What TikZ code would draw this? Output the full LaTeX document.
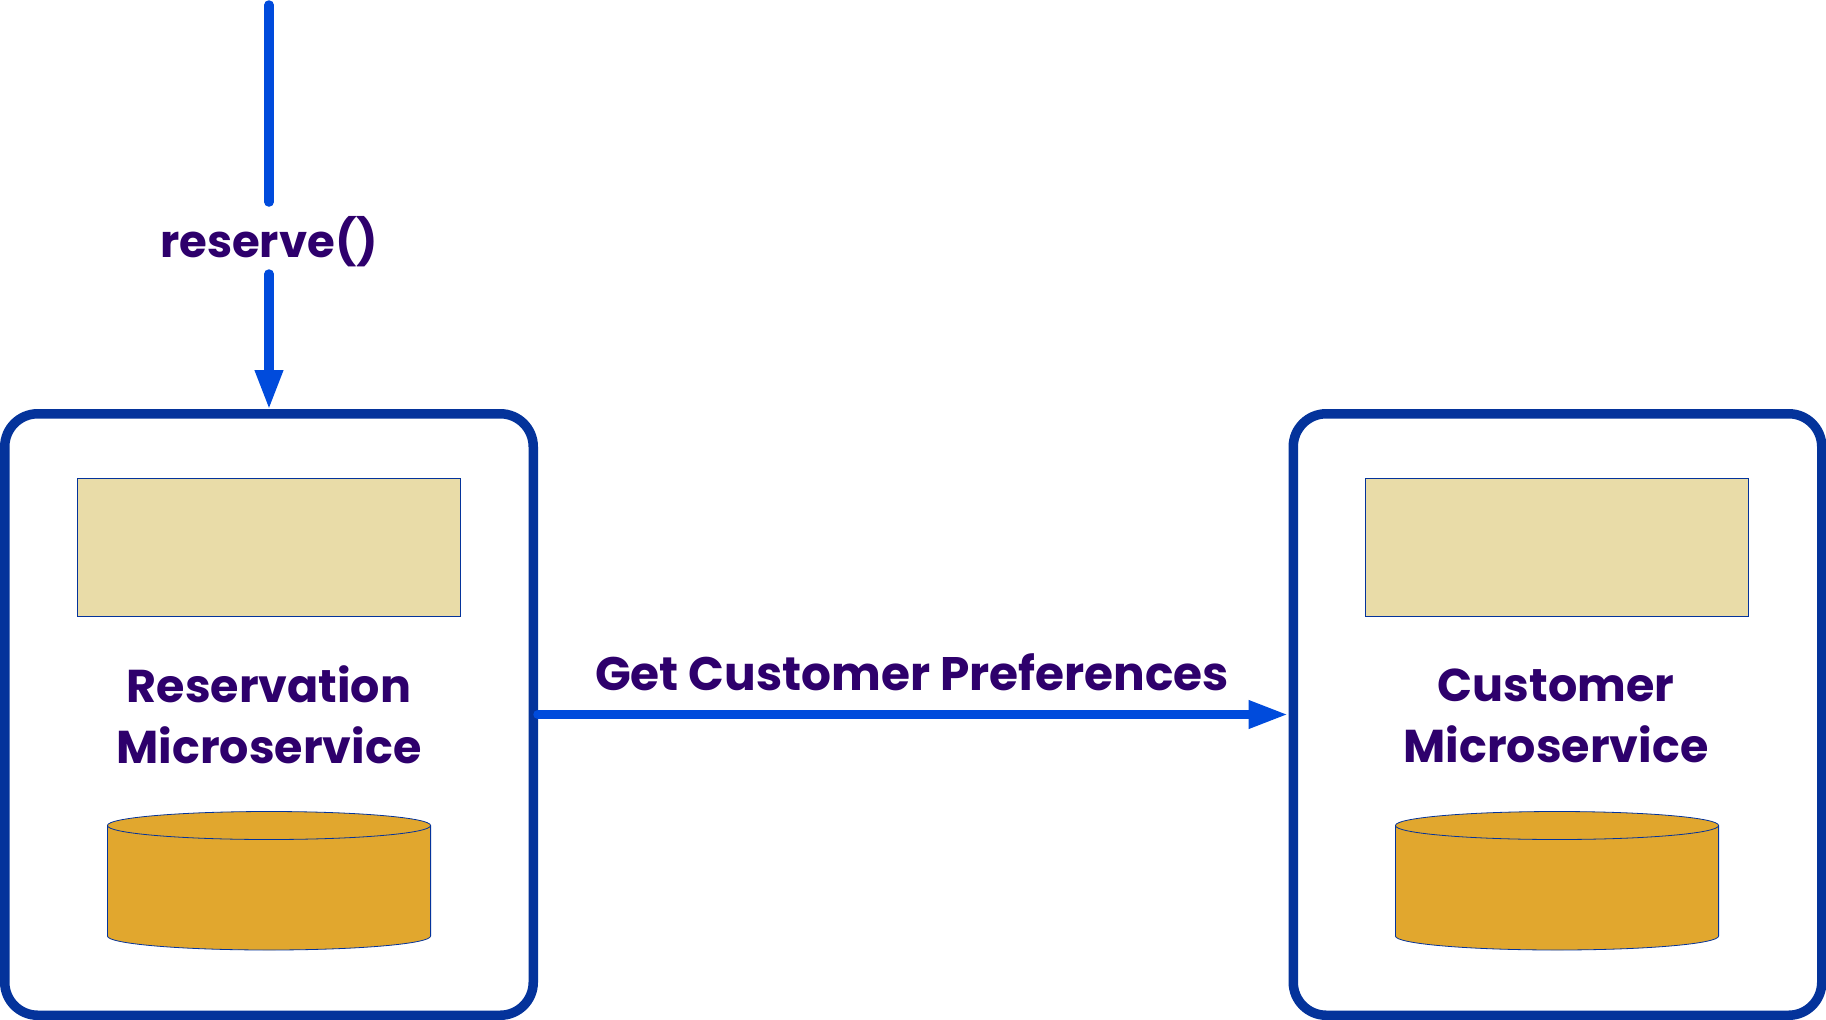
\documentclass[tikz,border=0pt]{standalone}
\usepackage{fontspec}
\setmainfont[BoldFont={Poppins Bold}]{Poppins}
\usetikzlibrary{arrows.meta}
\definecolor{linkblue}{HTML}{004BDC}
\definecolor{boxblue}{HTML}{04339B}
\definecolor{textpurple}{HTML}{2E006C}
\definecolor{sand}{HTML}{E9DCA8}
\definecolor{amber}{HTML}{E1A72E}
\tikzset{
  service/.style={draw=boxblue,line width=9.5pt,rounded corners=33pt,fill=white,minimum width=528.5pt,minimum height=601.5pt,inner sep=0pt},
  panel/.style={draw=boxblue,line width=0.8pt,fill=sand,minimum width=383pt,minimum height=138pt,inner sep=0pt,outer sep=0pt},
  drum/.style={draw=boxblue,line width=0.8pt,fill=amber},
  label/.style={text=textpurple,inner sep=0pt,outer sep=0pt,align=center,font=\fontsize{46}{61.3}\selectfont\bfseries},
  link/.style={draw=linkblue,line width=9.5pt,line cap=round},
  linkhead/.style={-{Triangle[length=40pt,width=26pt]}}
}
\begin{document}
\begin{tikzpicture}[x=1pt,y=-1pt]
\useasboundingbox (0,0) rectangle (1826,1020);
\node[service] (res) at (269,714.5) {};
\node[service] (cus) at (1557.5,714.5) {};
\node[panel] (respanel) at (269,547.75) {};
\node[panel] (cuspanel) at (1557,547.75) {};
\foreach \cx in {269,1557}{
  \draw[drum] (\cx-161.6,825.5) -- (\cx-161.6,936) arc[start angle=180,end angle=0,x radius=161.6,y radius=14] -- (\cx+161.6,825.5) arc[start angle=0,end angle=-180,x radius=161.6,y radius=14] -- cycle;
  \draw[drum,fill=none] (\cx-161.6,825.5) arc[start angle=180,end angle=0,x radius=161.6,y radius=14];
}
\node[label,anchor=center] (resname) at (269,715) {Reservation\\Microservice};
\node[label,anchor=center] (cusname) at (1556,716) {Customer\\Microservice};
\node[label,font=\fontsize{45}{54}\selectfont\bfseries,text height=55pt,text depth=17pt] (call) at (269,238) {reserve()};
\node[label,font=\fontsize{47}{54}\selectfont\bfseries,anchor=base] (pref) at (912,690) {Get Customer Preferences};
\coordinate (entry) at (269,5);
\draw[link] (entry) -- (call.north);
\draw[link,linkhead,shorten >=-1pt] (call.south) -- (res.north);
\draw[link,linkhead,shorten >=0pt] (res.east) -- (cus.west);
\end{tikzpicture}
\end{document}
